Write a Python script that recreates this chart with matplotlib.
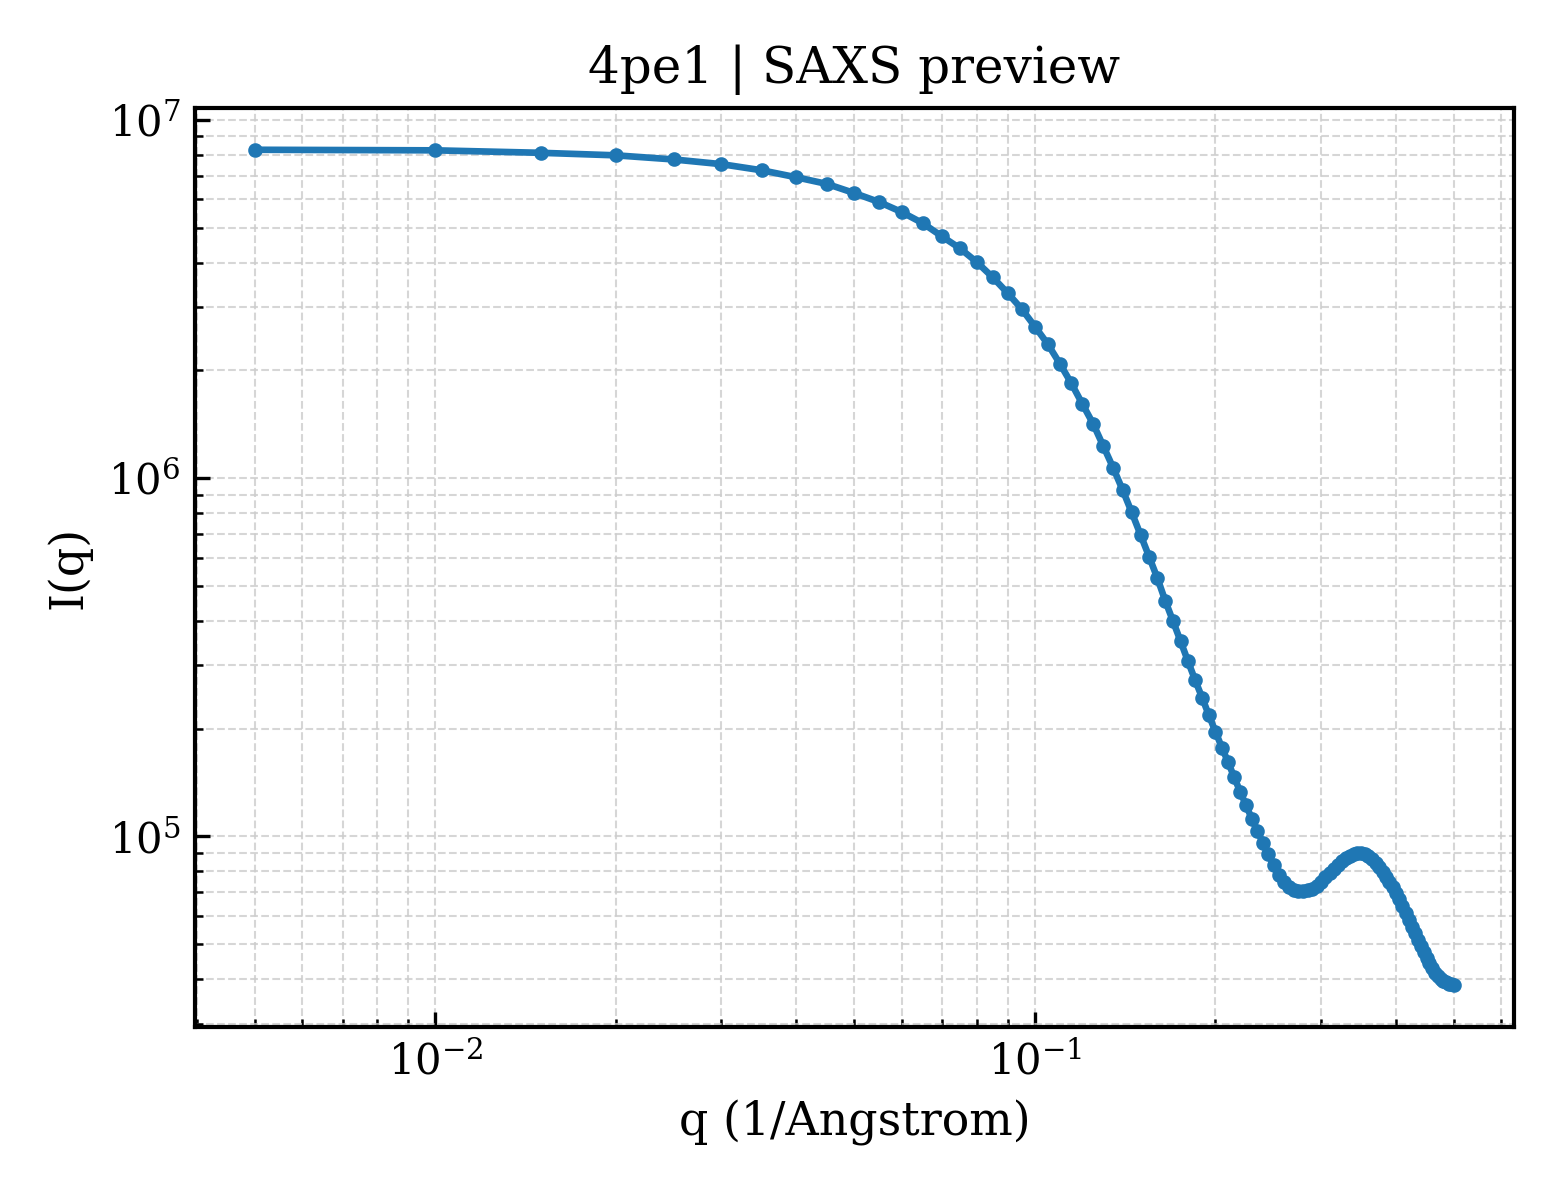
import matplotlib
matplotlib.use("Agg")
import matplotlib.pyplot as plt

# q grid (1/Angstrom): every 0.005 from 0.005 to 0.5
q = [0.005, 0.010, 0.015, 0.020, 0.025, 0.030, 0.035, 0.040, 0.045, 0.050,
     0.055, 0.060, 0.065, 0.070, 0.075, 0.080, 0.085, 0.090, 0.095, 0.100,
     0.105, 0.110, 0.115, 0.120, 0.125, 0.130, 0.135, 0.140, 0.145, 0.150,
     0.155, 0.160, 0.165, 0.170, 0.175, 0.180, 0.185, 0.190, 0.195, 0.200,
     0.205, 0.210, 0.215, 0.220, 0.225, 0.230, 0.235, 0.240, 0.245, 0.250,
     0.255, 0.260, 0.265, 0.270, 0.275, 0.280, 0.285, 0.290, 0.295, 0.300,
     0.305, 0.310, 0.315, 0.320, 0.325, 0.330, 0.335, 0.340, 0.345, 0.350,
     0.355, 0.360, 0.365, 0.370, 0.375, 0.380, 0.385, 0.390, 0.395, 0.400,
     0.405, 0.410, 0.415, 0.420, 0.425, 0.430, 0.435, 0.440, 0.445, 0.450,
     0.455, 0.460, 0.465, 0.470, 0.475, 0.480, 0.485, 0.490, 0.495, 0.500]

intensity = [8.26e6, 8.23e6, 8.10e6, 7.97e6, 7.76e6, 7.53e6, 7.24e6, 6.92e6, 6.63e6, 6.25e6,
             5.90e6, 5.53e6, 5.15e6, 4.73e6, 4.38e6, 4.01e6, 3.64e6, 3.29e6, 2.97e6, 2.65e6,
             2.37e6, 2.09e6, 1.84e6, 1.61e6, 1.42e6, 1.23e6, 1.07e6, 9.28e5, 8.03e5, 6.95e5,
             6.04e5, 5.26e5, 4.54e5, 3.98e5, 3.50e5, 3.08e5, 2.73e5, 2.44e5, 2.18e5, 1.96e5,
             1.77e5, 1.61e5, 1.46e5, 1.33e5, 1.22e5, 1.12e5, 1.035e5, 9.6e4, 8.9e4, 8.3e4,
             7.8e4, 7.45e4, 7.22e4, 7.08e4, 7.02e4, 7.02e4, 7.06e4, 7.13e4, 7.28e4, 7.47e4,
             7.68e4, 7.9e4, 8.12e4, 8.33e4, 8.52e4, 8.68e4, 8.82e4, 8.92e4, 8.97e4, 8.98e4,
             8.93e4, 8.8e4, 8.62e4, 8.42e4, 8.2e4, 7.95e4, 7.7e4, 7.45e4, 7.2e4, 6.95e4,
             6.68e4, 6.4e4, 6.12e4, 5.85e4, 5.6e4, 5.37e4, 5.15e4, 4.95e4, 4.76e4, 4.58e4,
             4.42e4, 4.28e4, 4.16e4, 4.07e4, 4.0e4, 3.95e4, 3.91e4, 3.88e4, 3.86e4, 3.84e4]

plt.rcParams['font.family'] = 'DejaVu Serif'
plt.rcParams['font.size'] = 10

fig, ax = plt.subplots(figsize=(5.2, 4.0), dpi=300)
fig.subplots_adjust(left=0.125, right=0.9705, top=0.91, bottom=0.1442)

ax.plot(q, intensity, marker='o', markersize=2.5, linewidth=1.6, color='#1f77b4')
ax.set_xscale('log')
ax.set_yscale('log')

ax.set_title("4pe1 | SAXS preview", fontsize=12)
ax.set_xlabel("q (1/Angstrom)", fontsize=11)
ax.set_ylabel("I(q)", fontsize=11)

ax.tick_params(which='both', direction='in')
ax.grid(True, which='both', linestyle='--', linewidth=0.5, color='#cccccc', alpha=0.8)
for s in ax.spines.values():
    s.set_linewidth(1.0)

fig.savefig("out.png", dpi=300)
